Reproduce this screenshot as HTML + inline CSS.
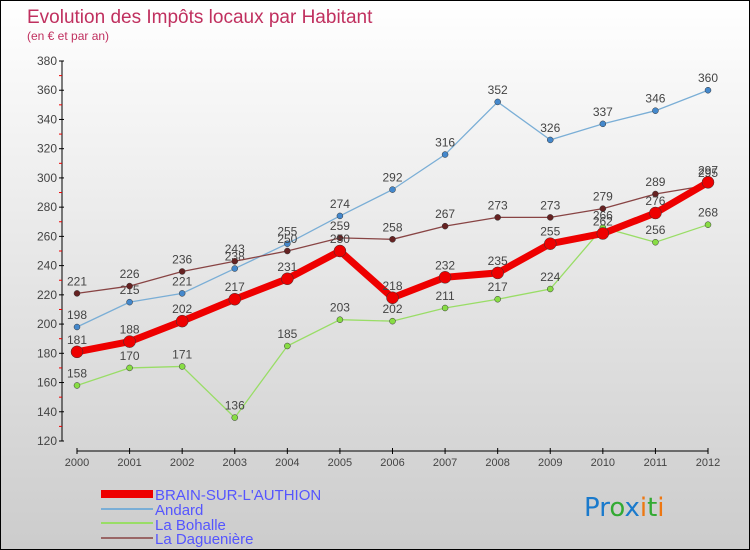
<!DOCTYPE html>
<html><head><meta charset="utf-8"><style>
body{margin:0}
#c{width:750px;height:550px;position:relative;box-sizing:border-box;border:1px solid #000;background:linear-gradient(#fff,#ccc);font-family:"Liberation Sans",sans-serif;overflow:hidden}
</style></head><body>
<div id="c">
<svg id="s" width="750" height="550" style="position:absolute;left:0;top:0">
<text x="26" y="22" font-size="19" fill="#c0305f">Evolution des Impôts locaux par Habitant</text>
<text x="26" y="39" font-size="12" fill="#c0305f">(en € et par an)</text>
<g id="axes"></g><g id="series"></g>
<g font-size="15" fill="#5555ff">
<rect x="100" y="489" width="52" height="8" fill="#e00"/>
<text x="154" y="499">BRAIN-SUR-L'AUTHION</text>
<line x1="100" x2="152" y1="508" y2="508" stroke="#7aaed6" stroke-width="2"/>
<text x="154" y="514">Andard</text>
<line x1="100" x2="152" y1="522" y2="522" stroke="#99dd66" stroke-width="2"/>
<text x="154" y="529">La Bohalle</text>
<line x1="100" x2="152" y1="537" y2="537" stroke="#996666" stroke-width="2"/>
<text x="154" y="543">La Daguenière</text>
</g>
<text x="583" y="515" font-size="26" font-family="DejaVu Sans"><tspan fill="#1a7acc">Pr</tspan><tspan fill="#33aa33">o</tspan><tspan fill="#1a7acc">x</tspan><tspan fill="#ee7711">i</tspan><tspan fill="#33aa33">t</tspan><tspan fill="#ee7711">i</tspan></text>
</svg></div>
<script>
const years=[2000,2001,2002,2003,2004,2005,2006,2007,2008,2009,2010,2011,2012];
const yTicks=[120,140,160,180,200,220,240,260,280,300,320,340,360,380];
const brain=[181,188,202,217,231,250,218,232,235,255,262,276,297];
const andard=[198,215,221,238,255,274,292,316,352,326,337,346,360];
const bohalle=[158,170,171,136,185,203,202,211,217,224,266,256,268];
const dagueniere=[221,226,236,243,250,259,258,267,273,273,279,289,295];
const NS="http://www.w3.org/2000/svg";
const X=i=>76+i*(707-76)/12;
const Y=v=>440-(v-120)*(380/260);
function mk(t,a,p){const e=document.createElementNS(NS,t);for(const k in a)e.setAttribute(k,a[k]);p.appendChild(e);return e;}
const ax=document.getElementById('axes');
let yl=mk('line',{x1:61,x2:61,y1:60,y2:440,stroke:'#000'},ax);


yTicks.forEach(v=>{mk('line',{x1:58,x2:63,y1:Y(v),y2:Y(v),stroke:'#000'},ax);
 if(v<380)mk('line',{x1:58,x2:61,y1:Y(v+10),y2:Y(v+10),stroke:'#e00'},ax);
 const t=mk('text',{x:56,y:Y(v)+4,'text-anchor':'end','font-size':12,fill:'#444'},ax);t.textContent=v;
 
 });
let xl=mk('line',{x1:76,x2:707,y1:450,y2:450,stroke:'#000'},ax);


years.forEach((y,i)=>{mk('line',{x1:X(i),x2:X(i),y1:447,y2:453,stroke:'#000'},ax);
 const t=mk('text',{x:X(i),y:465,'text-anchor':'middle','font-size':11,fill:'#444'},ax);t.textContent=y;
 
 });
const sg=document.getElementById('series');
function draw(d,name,col,dot,w,r){const g=mk('g',{},sg);
 
 
 mk('polyline',{points:d.map((v,i)=>X(i)+','+Y(v)).join(' '),fill:'none',stroke:col,'stroke-width':w},g);
 d.forEach((v,i)=>{const c=mk('circle',{cx:X(i),cy:Y(v),r:r,fill:dot,stroke:'#333','stroke-width':0.5},g);
  
  
  const t=mk('text',{x:X(i),y:Y(v)-8,'text-anchor':'middle','font-size':12,fill:'#444'},g);t.textContent=v;
  
  });}
draw(bohalle,'la-bohalle','#99dd66','#88dd44',1.3,3);
draw(andard,'andard','#7aaed6','#4488cc',1.3,3);
draw(dagueniere,'la-dagueniere','#884444','#662222',1.3,3);
draw(brain,'brain','#ee0000','#ee0000',7,6);
</script>
</body></html>
